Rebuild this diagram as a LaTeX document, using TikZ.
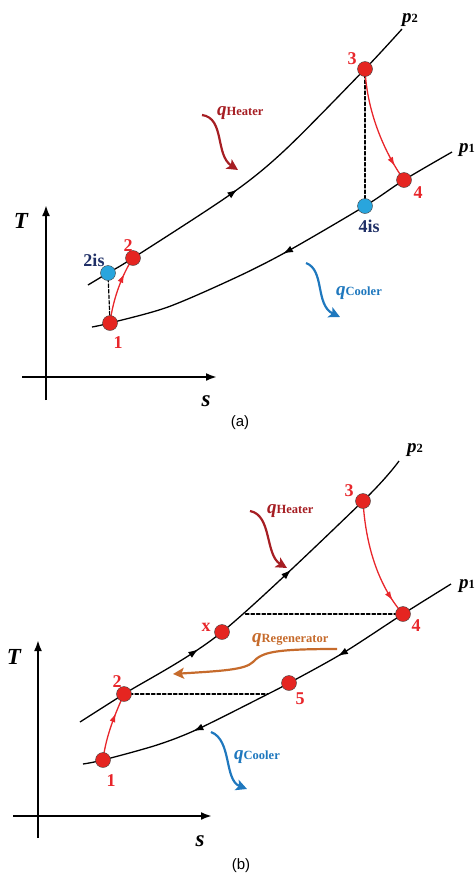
\documentclass[tikz,border=0pt]{standalone}
\usepackage{fontspec}
\setmainfont{Liberation Serif}
\setsansfont{Liberation Sans}
\usepackage{tkz-euclide}
\usetikzlibrary{arrows.meta,decorations.markings}
\definecolor{PtRed}{HTML}{E52521}
\definecolor{PtBlue}{HTML}{29A5DD}
\definecolor{LblRed}{HTML}{E8262B}
\definecolor{LblNavy}{HTML}{1F2F66}
\definecolor{HeatClr}{HTML}{A61E23}
\definecolor{CoolClr}{HTML}{1F78BE}
\definecolor{RegClr}{HTML}{C66B2C}

\newcommand\sublbl[2]{{\fontsize{19}{19}\selectfont\bfseries\itshape #1}{\fontsize{12.5}{12.5}\selectfont\bfseries #2}}

\tikzset{
  isobar/.style={line width=1.3pt,black},
  tipat/.style={postaction={decorate,decoration={markings,
      mark=at position #1 with {\arrow{Latex[length=10pt,width=7pt]}}}}},
  tipback/.style={postaction={decorate,decoration={markings,
      mark=at position #1 with {\arrowreversed{Latex[length=10pt,width=7pt]}}}}},
  process/.style={LblRed,line width=1.3pt},
  proctip/.style={postaction={decorate,decoration={markings,
      mark=at position #1 with {\arrow{Latex[length=9pt,width=6pt]}}}}},
  heat/.style={line width=2.2pt,-{Stealth[length=11pt,width=11pt,inset=2.5pt]}},
  axis/.style={line width=2.5pt,-{Latex[length=11pt,width=8pt]}},
  isoline/.style={line width=1.2pt,dash pattern=on 3.5pt off 2pt},
  num/.style={LblRed,font=\fontsize{18}{18}\selectfont\bfseries},
  isnum/.style={LblNavy,font=\fontsize{18}{18}\selectfont\bfseries},
  axlbl/.style={font=\fontsize{23}{23}\selectfont\bfseries\itshape},
  sublbl/.style={anchor=base west,inner sep=0pt},
  caption/.style={font=\sffamily\fontsize{15}{15}\selectfont}
}

\begin{document}
\begin{tikzpicture}[x=1pt,y=-1pt]
\useasboundingbox (0,0) rectangle (475,876);

% (a) simple cycle
\tkzDefPoints{46/400/Ta0,46/205/Ta1,22/377/Sa0,217/377/Sa1}
\tkzDefPoints{110/323/A1,133/258/A2,365/69/A3,404/180/A4,108/273/Ai2,365/206/Ai4}
\tkzDefPoints{88/285/Pa2s,402/29/Pa2e,92/327/Pa1s,452/152/Pa1e}
\tkzDefPoints{202/115/Ha0,238/170/Ha1,306/263/Ca0,340/317/Ca1}

\draw[axis] (Ta0) -- (Ta1);
\draw[axis] (Sa0) -- (Sa1);

\draw[isobar,tipat=0.435] plot[smooth] coordinates {(Pa2s) (Ai2) (A2) (231,194) (285,150) (A3) (Pa2e)};
\draw[isobar,tipback=0.51] plot[smooth] coordinates {(Pa1s) (A1) (168,307) (237,277) (288,251) (Ai4) (A4) (Pa1e)};

\tkzDrawSegments[isoline](A3,Ai4 Ai2,A1)

\draw[process,proctip=0.74] (A1) .. controls +(3,-25) and +(-10,15) .. (A2);
\draw[process,proctip=0.86] (A3) .. controls +(2,45) and +(-18,-25) .. (A4);

\draw[heat,HeatClr] (Ha0) .. controls (225,118) and (215,155) .. (Ha1);
\draw[heat,CoolClr] (Ca0) .. controls (325,270) and (315,305) .. (Ca1);

\tkzDrawPoints[size=15,fill=PtRed,draw=black!75](A1,A2,A3,A4)
\tkzDrawPoints[size=15,fill=PtBlue,draw=black!75](Ai2,Ai4)

\node[num] (la1) at (118,343) {1};
\node[num] (la2) at (128,246) {2};
\node[num] (la3) at (352,59) {3};
\node[num] (la4) at (418,193) {4};
\node[isnum] (lai2) at (94,260) {2is};
\node[isnum] (lai4) at (369,226) {4is};
\node[axlbl] (lTa) at (21,221) {T};
\node[axlbl] (lSa) at (206,401) {s};
\node[sublbl] (lp2a) at (402,22) {\sublbl{p}{2}};
\node[sublbl,anchor=base east] (lp1a) at (475,152) {\sublbl{p}{1}};
\node[sublbl,HeatClr] (lqHa) at (217,115) {\sublbl{q}{Heater}};
\node[sublbl,CoolClr] (lqCa) at (336,295) {\sublbl{q}{Cooler}};
\node[caption] (capa) at (240,423) {(a)};

% (b) cycle with regenerator
\tkzDefPoints{38/838/Tb0,38/640/Tb1,13/816/Sb0,212/816/Sb1}
\tkzDefPoints{103/760/B1,124/694/B2,363/501/B3,403/614/B4,289/683/B5,222/632/Bx}
\tkzDefPoints{244/614/Bd4,268/694/Bd2}
\tkzDefPoints{80/722/Pb2s,399/461/Pb2e,83/764/Pb1s,451/584/Pb1e}
\tkzDefPoints{250/511/Hb0,287/568/Hb1,211/732/Cb0,247/789/Cb1,337/649/Rb0,253/662/Rb1,173/674/Rb2}

\draw[axis] (Tb0) -- (Tb1);
\draw[axis] (Sb0) -- (Sb1);

\draw[isobar,tipat=0.335,tipat=0.63] plot[smooth] coordinates {(Pb2s) (B2) (Bx) (B3) (Pb2e)};
\draw[isobar,tipback=0.28,tipback=0.675] plot[smooth] coordinates {(Pb1s) (B1) (157,745) (198,729) (Bd2) (B5) (343,653) (B4) (Pb1e)};

\tkzDrawSegments[isoline](B4,Bd4 B2,Bd2)

\draw[process,proctip=0.7] (B1) .. controls +(3,-25) and +(-8,18) .. (B2);
\draw[process,proctip=0.86] (B3) .. controls +(3,50) and +(-22,-25) .. (B4);

\draw[heat,HeatClr] (Hb0) .. controls (272,515) and (265,555) .. (Hb1);
\draw[heat,CoolClr] (Cb0) .. controls (232,740) and (224,780) .. (Cb1);
\draw[heat,RegClr] (Rb0) .. controls (275,649) and (262,652) .. (Rb1)
  .. controls (245,670) and (220,671) .. (Rb2);

\tkzDrawPoints[size=15,fill=PtRed,draw=black!75](B1,B2,B3,B4,B5,Bx)

\node[num] (lb1) at (111,781) {1};
\node[num] (lb2) at (117,682) {2};
\node[num] (lb3) at (349,491) {3};
\node[num] (lb4) at (416,626) {4};
\node[num] (lb5) at (300,699) {5};
\node[num] (lbx) at (206,627) {x};
\node[axlbl] (lTb) at (14,657) {T};
\node[axlbl] (lSb) at (200,841) {s};
\node[sublbl] (lp2b) at (407,452) {\sublbl{p}{2}};
\node[sublbl,anchor=base east] (lp1b) at (475,588) {\sublbl{p}{1}};
\node[sublbl,HeatClr] (lqHb) at (267,513) {\sublbl{q}{Heater}};
\node[sublbl,CoolClr] (lqCb) at (234,759) {\sublbl{q}{Cooler}};
\node[sublbl,RegClr] (lqRb) at (252,642) {\sublbl{q}{Regenerator}};
\node[caption] (capb) at (241,866) {(b)};
\end{tikzpicture}
\end{document}
